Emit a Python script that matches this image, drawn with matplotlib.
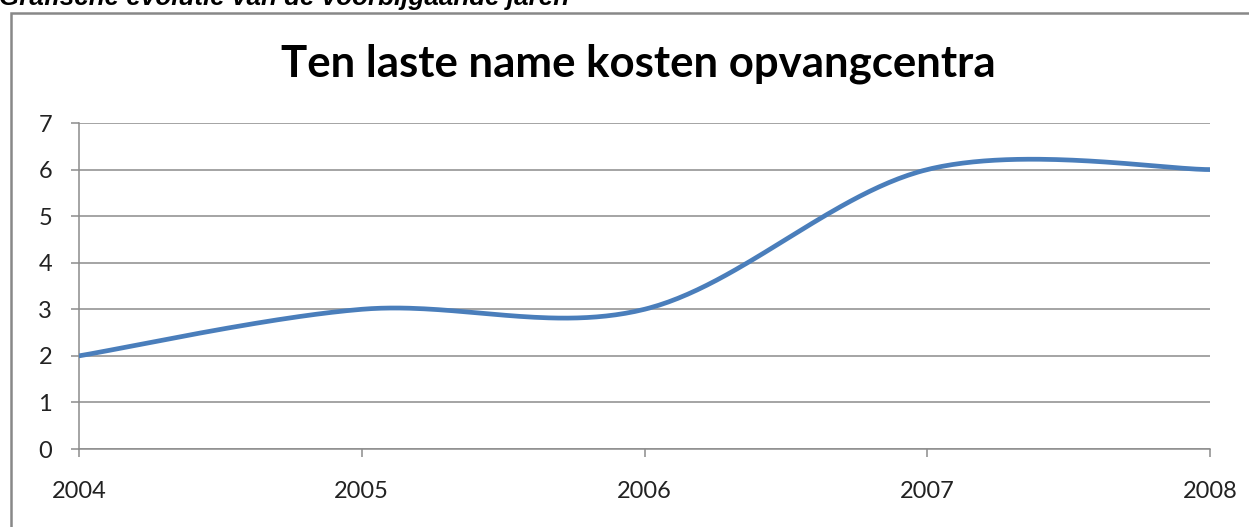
import numpy as np
import matplotlib.pyplot as plt
from matplotlib.patches import Rectangle

years = [2004, 2005, 2006, 2007, 2008]
values = [2, 3, 3, 6, 6]
yticks = [0, 1, 2, 3, 4, 5, 6, 7]
title = 'Ten laste name kosten opvangcentra'
caption = 'Grafische evolutie van de voorbijgaande jaren'


def smooth_line(xs, ys, steps=60):
    # Excel-style smoothed line: cubic Bezier segments with Catmull-Rom control points
    pts = np.column_stack([xs, ys]).astype(float)
    pad = np.vstack([pts[0], pts, pts[-1]])
    out = []
    for i in range(len(pts) - 1):
        p0, p1, p2, p3 = pad[i], pad[i + 1], pad[i + 2], pad[i + 3]
        c1 = p1 + (p2 - p0) / 6
        c2 = p2 - (p3 - p1) / 6
        t = np.linspace(0, 1, steps)[:, None]
        seg = ((1 - t) ** 3) * p1 + 3 * ((1 - t) ** 2) * t * c1 + 3 * (1 - t) * t ** 2 * c2 + t ** 3 * p2
        out.append(seg)
    out = np.vstack(out)
    return out[:, 0], out[:, 1]


fig = plt.figure(figsize=(12.49, 5.27), dpi=100)
fig.patch.set_facecolor('white')

# chart border (extends past the right and bottom edge)
fig.add_artist(Rectangle((11 / 1249, -0.1), 1.2, (527 - 13) / 527 + 0.1,
                         transform=fig.transFigure, fill=False,
                         edgecolor='#888888', linewidth=1.8))

# clipped caption from the document above the chart
fig.text(-0.001, 1 - 5 / 527, caption, fontsize=18.7, fontweight='bold',
         fontstyle='italic', family='Liberation Sans', va='baseline', ha='left')

ax = fig.add_axes([79 / 1249, 78 / 527, (1210 - 79) / 1249, (449 - 123) / 527])

sx, sy = smooth_line(years, values)
ax.plot(sx, sy, color='#4a7ebb', linewidth=3.4, solid_capstyle='round', zorder=3)

ax.set_xlim(years[0], years[-1])
ax.set_ylim(0, 7)
ax.set_yticks(yticks)
ax.set_xticks(years)
ax.set_xticklabels([str(y) for y in years])
ax.yaxis.grid(True, color='#8c8c8c', linewidth=1.1)
ax.set_axisbelow(True)

for side in ['top', 'right']:
    ax.spines[side].set_visible(False)
ax.spines['left'].set_color('#8c8c8c')
ax.spines['bottom'].set_color('#8c8c8c')
ax.spines['left'].set_linewidth(1.1)
ax.spines['bottom'].set_linewidth(1.1)
ax.tick_params(axis='y', length=5.8, width=1.1, color='#8c8c8c', pad=13.5,
               labelsize=17, labelcolor='#222222')
ax.tick_params(axis='x', length=5.8, width=1.1, color='#8c8c8c', pad=17,
               labelsize=17, labelcolor='#222222')
for lbl in ax.get_xticklabels() + ax.get_yticklabels():
    lbl.set_family('Lato')

fig.text(638 / 1249, 1 - 77 / 527, title, fontsize=31.5, fontweight='bold',
         family='Lato', ha='center', va='baseline')

fig.savefig('out.png', dpi=100)
